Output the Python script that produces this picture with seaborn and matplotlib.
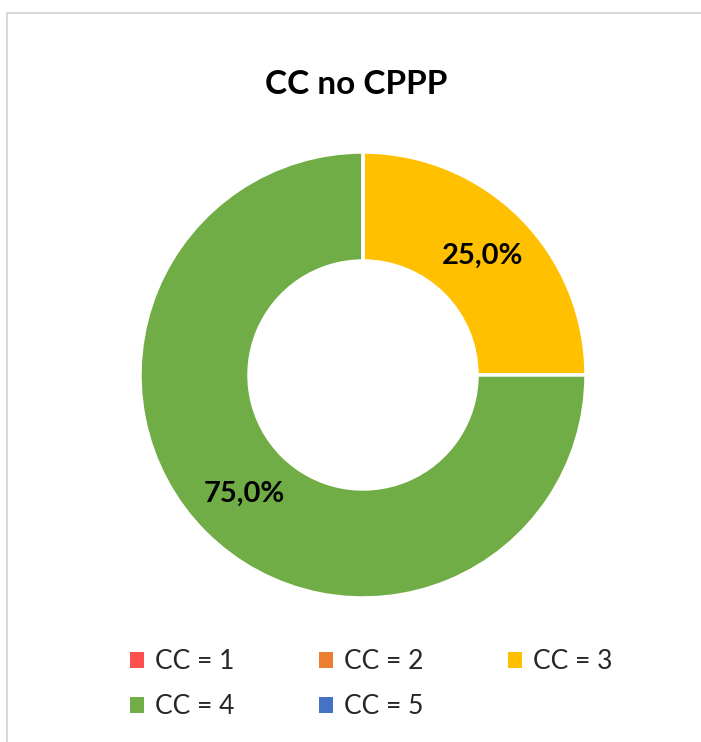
import numpy as np
import matplotlib
matplotlib.use("Agg")
import matplotlib.pyplot as plt
import seaborn as sns
from matplotlib.patches import Rectangle, Patch

categories = ["CC = 1", "CC = 2", "CC = 3", "CC = 4", "CC = 5"]
values = [0.0, 0.0, 25.0, 75.0, 0.0]
colors = ["#FF5050", "#ED7D31", "#FFC000", "#70AD47", "#4472C4"]
title = "CC no CPPP"

sns.set_theme(style="white")
plt.rcParams["font.family"] = ["Lato", "DejaVu Sans"]

W, H = 701, 742
fig = plt.figure(figsize=(W / 100, H / 100), dpi=100)
fig.patch.set_facecolor("white")

# chart border
fig.add_artist(Rectangle((7 / W, -0.05), 1.0, 1 - 13 / H + 0.05, transform=fig.transFigure,
                         fill=False, edgecolor="#d9d9d9", linewidth=1.5))

cx, cy, R = 363, 375, 223
ax = fig.add_axes([(cx - R) / W, (H - cy - R) / H, 2 * R / W, 2 * R / H])
wedges, _ = ax.pie(values, colors=colors, startangle=90, counterclock=False, radius=1.0,
                   wedgeprops=dict(width=1 - 114 / 223, edgecolor="white", linewidth=2.5))
ax.set_xlim(-1, 1)
ax.set_ylim(-1, 1)
ax.set_aspect("equal")
ax.axis("off")

total = sum(values)
rmid = (1 + 114 / 223) / 2
for w, v in zip(wedges, values):
    if v <= 0:
        continue
    ang = np.deg2rad((w.theta1 + w.theta2) / 2)
    label = f"{v / total * 100:.1f}%".replace(".", ",")
    ax.text(rmid * np.cos(ang), rmid * np.sin(ang), label, ha="center", va="center",
            fontsize=21, fontweight="bold", color="black")

fig.text(356 / W, 1 - 84 / H, title, ha="center", va="center", fontsize=24,
         fontweight="bold", color="black")

handles = [Patch(facecolor=c, edgecolor="none") for c in colors]
order = [0, 3, 1, 4, 2]
leg = fig.legend([handles[i] for i in order], [categories[i] for i in order],
                 ncol=3, loc="center left", bbox_to_anchor=(106 / W, 1 - 684 / H),
                 frameon=False, fontsize=19, handlelength=0.55, handleheight=0.55,
                 handletextpad=0.4, columnspacing=3.2, labelspacing=0.75)

fig.savefig("out.png", dpi=100, facecolor="white")
